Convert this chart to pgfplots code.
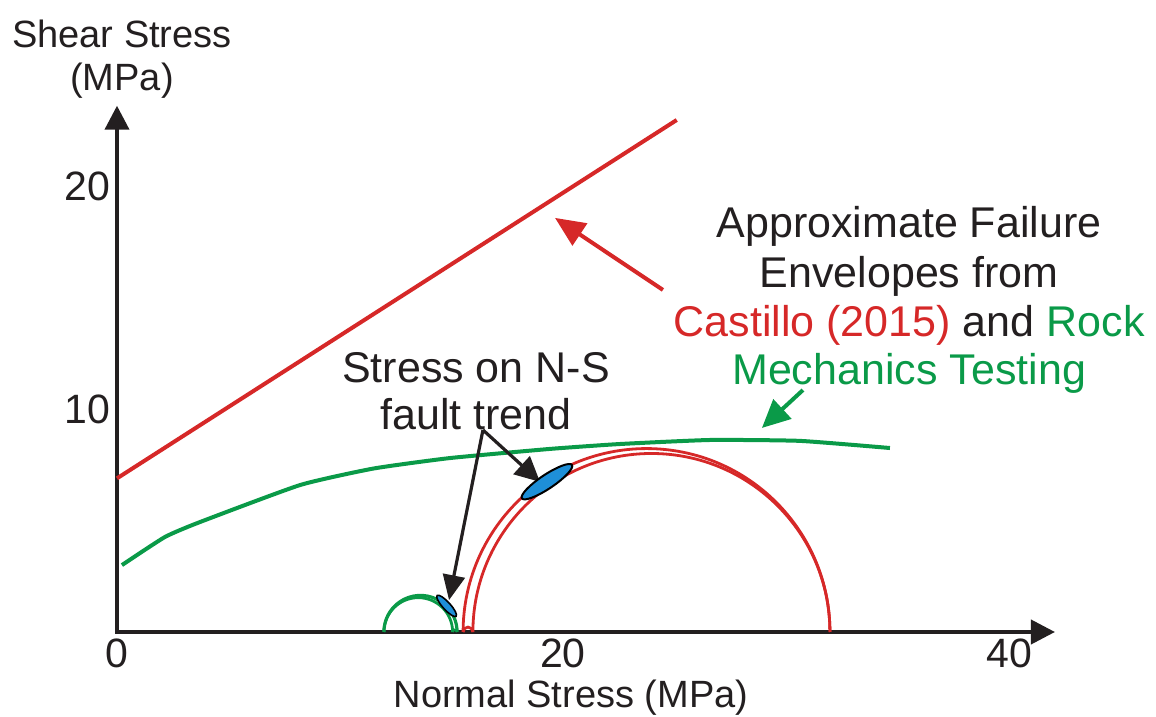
\documentclass[border=0pt]{standalone}
\usepackage{pgfplots}
\pgfplotsset{compat=1.18}
\usepackage{pgfplotstable}
\usetikzlibrary{arrows.meta}
\usepackage{fontspec}
\setmainfont{Liberation Sans}
\definecolor{envred}{HTML}{D62828}
\definecolor{envgreen}{HTML}{0A9A48}
\definecolor{faultblue}{HTML}{1E8FD8}
\definecolor{ink}{HTML}{231F20}
\newcommand{\ulen}{11.15pt}
\newcommand{\annfont}{\fontsize{21.5pt}{24pt}\selectfont}

% Castillo (2015) failure envelope
\pgfplotstableread{
x y
0 6.89
25.1 22.96
}\castillo

% Rock mechanics testing failure envelope
\pgfplotstableread{
x y
0.22 3.00
2.15 4.26
3.72 4.93
8.21 6.59
11.50 7.33
14.93 7.80
19.42 8.21
22.56 8.43
26.59 8.61
30.63 8.57
34.66 8.25
}\rockmech

\begin{document}
\begin{tikzpicture}
\begin{axis}[
  x=\ulen, y=\ulen,
  xmin=0, xmax=42.06, ymin=0, ymax=23.6,
  axis lines=left,
  axis line style={line width=2pt, draw=ink, line cap=rect, -{Triangle[length=12pt,width=12pt]}},
  clip=false,
  xtick={0,20,40}, ytick={10,20},
  major tick length=0pt,
  tick style={draw=none},
  /pgf/number format/assume math mode=true,
  ticklabel style={font=\fontsize{20.5pt}{24pt}\selectfont, text=ink},
  xlabel={Normal Stress (MPa)},
  xlabel style={font=\fontsize{19pt}{22pt}\selectfont, text=ink,
    at={(axis description cs:0.484,0)}, anchor=base, yshift=-37.5pt},
  ylabel={Shear Stress\\(MPa)},
  ylabel style={rotate=-90, align=center, font=\fontsize{19pt}{21.5pt}\selectfont, text=ink,
    at={(axis description cs:0.0053,1)}, anchor=south},
]
% failure envelopes
\addplot[envred, line width=2pt, no marks] table {\castillo};
\addplot[envgreen, line width=2pt, no marks, smooth, tension=0.3] table {\rockmech};

% Mohr circles (red): sigma3=15.52, sigma2=15.96, sigma1=31.97
\draw[envred, line width=1.4pt] (axis cs:15.52,0) arc[start angle=180, end angle=0, radius=8.225*\ulen];
\draw[envred, line width=1.4pt] (axis cs:15.96,0) arc[start angle=180, end angle=0, radius=8.005*\ulen];
\draw[envred, line width=1.4pt] (axis cs:15.52,0) arc[start angle=180, end angle=0, radius=0.22*\ulen];
% Mohr circles (green): sigma3=11.97, sigma2=15.05, sigma1=15.25
\draw[envgreen, line width=1.6pt] (axis cs:11.97,0) arc[start angle=180, end angle=0, radius=1.64*\ulen];
\draw[envgreen, line width=1.4pt] (axis cs:11.97,0) arc[start angle=180, end angle=0, radius=1.54*\ulen];
\draw[envgreen, line width=1.2pt] (axis cs:15.05,0) arc[start angle=180, end angle=0, radius=0.10*\ulen];

% stress on N-S fault trend
\addplot[only marks, mark=*, mark size=3.5pt,
  mark options={fill=faultblue, draw=black, line width=1pt, rotate=33.7, xscale=4.3}]
  coordinates {(19.28,6.74)};
\addplot[only marks, mark=*, mark size=1.9pt,
  mark options={fill=faultblue, draw=black, line width=0.8pt, rotate=-47.6, xscale=3.7}]
  coordinates {(14.78,1.17)};

% annotation arrows
\draw[ink, line width=1.6pt, -{Triangle[length=12.5pt,width=12pt]}] (axis cs:16.41,9.06) -- (axis cs:18.97,6.73);
\draw[ink, line width=1.6pt, -{Triangle[length=12.5pt,width=11pt]}] (axis cs:16.41,9.06) -- (axis cs:14.89,1.43);
\draw[envred, line width=2pt, -{Triangle[length=15pt,width=13pt]}] (axis cs:24.48,15.34) -- (axis cs:19.64,18.57);
\draw[envgreen, line width=2pt, -{Triangle[length=14pt,width=13pt]}] (axis cs:30.76,10.85) -- (axis cs:28.92,9.15);

% annotation texts
\node[anchor=base, text=ink, font=\annfont, inner sep=0pt] at (axis cs:16.10,11.17) {Stress on N-S};
\node[anchor=base, text=ink, font=\annfont, inner sep=0pt] at (axis cs:16.10,9.06) {fault trend};
\node[anchor=base, text=ink, font=\annfont, inner sep=0pt] at (axis cs:35.52,17.67) {Approximate Failure};
\node[anchor=base, text=ink, font=\annfont, inner sep=0pt] at (axis cs:35.52,15.47) {Envelopes from};
\node[anchor=base, font=\annfont, inner sep=0pt] at (axis cs:35.52,13.23) {\textcolor{envred}{Castillo (2015)} \textcolor{ink}{and} \textcolor{envgreen}{Rock}};
\node[anchor=base, text=envgreen, font=\annfont, inner sep=0pt] at (axis cs:35.52,11.08) {Mechanics Testing};

\coordinate (bbll) at (axis cs:-5.2466,-3.8117);
\coordinate (bbur) at (axis cs:46.592,28.341);
\end{axis}
\pgfresetboundingbox
\path[use as bounding box] (bbll) rectangle (bbur);
\end{tikzpicture}
\end{document}
